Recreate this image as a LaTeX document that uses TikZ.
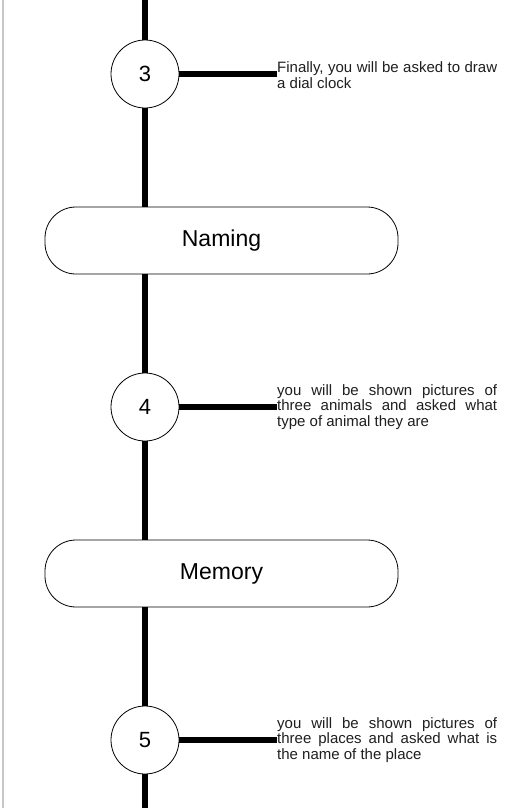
\documentclass[tikz,border=0pt]{standalone}
\usepackage{fontspec}
\setmainfont{Liberation Sans}
\usetikzlibrary{positioning}
\begin{document}
\begin{tikzpicture}[x=1pt,y=-1pt,
  stepcircle/.style={draw=black,line width=0.8pt,circle,minimum size=68pt,inner sep=0pt,fill=white,font=\fontsize{22}{26}\selectfont},
  stagebox/.style={draw=black,line width=0.8pt,rounded corners=31pt,minimum width=353pt,minimum height=67pt,inner sep=0pt,fill=white,font=\fontsize{23}{27}\selectfont},
  notetext/.style={anchor=west,inner sep=0pt,text width=220pt,align=justify,text=black!88,font=\fontsize{15}{15.5}\selectfont},
  spine/.style={line width=6.5pt},
  stub/.style={line width=6.5pt}]
\useasboundingbox (0,0) rectangle (520,808);
\fill[white] (0,0) rectangle (520,808);
\draw[black!22,line width=1.6pt] (3,0) -- (3,808);
% steps and stages
\coordinate (top) at (145,0);
\coordinate (bottom) at (145,808);
\node[stepcircle] (c3) at (145,74) {3};
\node[stagebox] (naming) at (221.5,240.5) {Naming};
\node[stepcircle] (c4) at (145,407) {4};
\node[stagebox] (memory) at (221.5,573.5) {Memory};
\node[stepcircle] (c5) at (145,740) {5};
% notes
\node[notetext] (t3) at (277,75) {Finally, you will be asked to draw\linebreak a dial clock};
\node[notetext] (t4) at (277,407) {you will be shown pictures of\linebreak three animals and asked what\linebreak type of animal they are};
\node[notetext] (t5) at (277,740) {you will be shown pictures of\linebreak three places and asked what is\linebreak the name of the place};
% spine
\draw[spine] (top) -- (c3.north);
\draw[spine] (c3.south) -- (c3.south |- naming.north);
\draw[spine] (c4.north |- naming.south) -- (c4.north);
\draw[spine] (c4.south) -- (c4.south |- memory.north);
\draw[spine] (c5.north |- memory.south) -- (c5.north);
\draw[spine] (c5.south) -- (bottom);
% stubs
\draw[stub] (c3.east) -- (c3.east -| t3.west);
\draw[stub] (c4.east) -- (t4.west);
\draw[stub] (c5.east) -- (t5.west);
\end{tikzpicture}
\end{document}
